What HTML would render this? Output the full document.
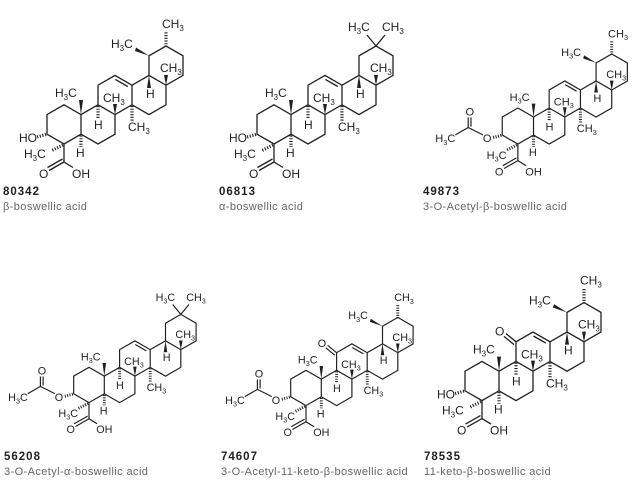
<!DOCTYPE html>
<html><head><meta charset="utf-8"><style>
html,body{margin:0;padding:0;background:#fff}
svg{display:block}
text{font-family:"Liberation Sans",sans-serif;fill:#231f20}
.a{font-size:12px}
.id{font-size:11.5px;font-weight:bold;letter-spacing:1px}
.nm{font-size:11px;fill:#666;letter-spacing:0.4px}
.s{font-size:8px}
</style></head><body>
<svg width="638" height="486" viewBox="0 0 638 486" xmlns="http://www.w3.org/2000/svg">
<defs>
<g id="sk" fill="none" stroke="#231f20" stroke-width="1.3">
<path d="M64,104.8 L81,114.6 L81,134.2 L64,144 L47,134.2 L47,114.6 Z M81,114.6 L98,104.8 L115,114.6 L115,134.2 L98,144 L81,134.2 M98,104.8 L98,85.2 L115,75.4 L132,85.2 L132,104.8 L115,114.6 M132,85.2 L149,75.4 L166,85.2 L166,104.8 L149,114.6 L132,104.8 M149,75.4 L149,55.8 L166,46 L183,55.8 L183,75.4 L166,85.2 M115.4,79.4 L127.8,86.5 M64,144 L64,162 L73,167.5 M64,162 L49,170.5 M62.5,159 L47.5,167.5"/>
<g fill="#231f20" stroke="none">
<polygon points="81,114.6 79,100 83,100"/>
<polygon points="115,114.6 113,104 117,104"/>
<polygon points="149,75.4 147,88 151,88"/>
<polygon points="166,85.2 164,75 168,75"/>
</g>
<g stroke-width="3.2" stroke-dasharray="1.1,1.6">
<line x1="98" y1="106" x2="98" y2="119"/>
<line x1="132" y1="106" x2="132" y2="121"/>
<line x1="81" y1="135.5" x2="81" y2="147"/>
<line x1="63" y1="145" x2="51" y2="151"/>
</g>
</g>
<g id="beta" fill="#231f20">
<polygon points="149,55.8 136,47.5 135,51"/>
<line x1="166" y1="47" x2="166" y2="31" stroke="#231f20" stroke-width="3.2" stroke-dasharray="1.1,1.6"/>
</g>
<g id="gem" stroke="#231f20" stroke-width="1.3">
<line x1="166" y1="46" x2="157" y2="35"/><line x1="166" y1="46" x2="175" y2="35"/>
</g>
<g id="hoh" stroke="#231f20"><line x1="46" y1="134.5" x2="37" y2="137" stroke-width="3.2" stroke-dasharray="1.1,1.6"/></g>
<g id="oac" stroke="#231f20" stroke-width="1.3" fill="none">
<line x1="46" y1="134.5" x2="37" y2="137" stroke-width="3.2" stroke-dasharray="1.1,1.6"/>
<path d="M26,134 L10,126 L-4,134 M10,126 L10,115 M13,125 L13,115"/>
</g>
<g id="keto" stroke="#231f20" stroke-width="1.3"><path d="M98,85.2 L88,77 M96,88 L86,79.8"/></g>
</defs>

<g>
<use href="#sk"/><use href="#beta"/><use href="#hoh"/>
<text class="a" x="55" y="97">H<tspan class="s" dy="3">3</tspan><tspan dy="-3">C</tspan></text>
<text class="a" x="103" y="102">CH<tspan class="s" dy="3">3</tspan></text>
<text class="a" x="94" y="129">H</text>
<text class="a" x="128" y="131">CH<tspan class="s" dy="3">3</tspan></text>
<text class="a" x="146" y="98">H</text>
<text class="a" x="160" y="72">CH<tspan class="s" dy="3">3</tspan></text>
<text class="a" x="111" y="48">H<tspan class="s" dy="3">3</tspan><tspan dy="-3">C</tspan></text>
<text class="a" x="162" y="28">CH<tspan class="s" dy="3">3</tspan></text>
<text class="a" x="76" y="157">H</text>
<text class="a" x="19" y="142">HO</text>
<text class="a" x="24" y="158">H<tspan class="s" dy="3">3</tspan><tspan dy="-3">C</tspan></text>
<text class="a" x="39" y="178">O</text>
<text class="a" x="72" y="178">OH</text>
</g>

<g transform="translate(210,0)">
<use href="#sk"/><use href="#gem"/><use href="#hoh"/>
<text class="a" x="55" y="97">H<tspan class="s" dy="3">3</tspan><tspan dy="-3">C</tspan></text>
<text class="a" x="103" y="102">CH<tspan class="s" dy="3">3</tspan></text>
<text class="a" x="94" y="129">H</text>
<text class="a" x="128" y="131">CH<tspan class="s" dy="3">3</tspan></text>
<text class="a" x="146" y="98">H</text>
<text class="a" x="160" y="72">CH<tspan class="s" dy="3">3</tspan></text>
<text class="a" x="138" y="31">H<tspan class="s" dy="3">3</tspan><tspan dy="-3">C</tspan></text>
<text class="a" x="172" y="31">CH<tspan class="s" dy="3">3</tspan></text>
<text class="a" x="76" y="157">H</text>
<text class="a" x="19" y="142">HO</text>
<text class="a" x="24" y="158">H<tspan class="s" dy="3">3</tspan><tspan dy="-3">C</tspan></text>
<text class="a" x="39" y="178">O</text>
<text class="a" x="72" y="178">OH</text>
</g>

<g transform="translate(459,11.6) scale(0.92)">
<use href="#sk"/><use href="#beta"/><use href="#oac"/>
<text class="a" x="55" y="97">H<tspan class="s" dy="3">3</tspan><tspan dy="-3">C</tspan></text>
<text class="a" x="103" y="102">CH<tspan class="s" dy="3">3</tspan></text>
<text class="a" x="94" y="129">H</text>
<text class="a" x="128" y="131">CH<tspan class="s" dy="3">3</tspan></text>
<text class="a" x="146" y="98">H</text>
<text class="a" x="160" y="72">CH<tspan class="s" dy="3">3</tspan></text>
<text class="a" x="111" y="48">H<tspan class="s" dy="3">3</tspan><tspan dy="-3">C</tspan></text>
<text class="a" x="162" y="28">CH<tspan class="s" dy="3">3</tspan></text>
<text class="a" x="76" y="157">H</text>
<text class="a" x="26" y="142">O</text>
<text class="a" x="7" y="113">O</text>
<text class="a" x="-4" y="142" text-anchor="end">H<tspan class="s" dy="3">3</tspan><tspan dy="-3">C</tspan></text>
<text class="a" x="30" y="160">H<tspan class="s" dy="3">3</tspan><tspan dy="-3">C</tspan></text>
<text class="a" x="39" y="178">O</text>
<text class="a" x="72" y="178">OH</text>
</g>

<g transform="translate(31.4,273) scale(0.9)">
<use href="#sk"/><use href="#gem"/><use href="#oac"/>
<text class="a" x="55" y="97">H<tspan class="s" dy="3">3</tspan><tspan dy="-3">C</tspan></text>
<text class="a" x="103" y="102">CH<tspan class="s" dy="3">3</tspan></text>
<text class="a" x="94" y="129">H</text>
<text class="a" x="128" y="131">CH<tspan class="s" dy="3">3</tspan></text>
<text class="a" x="146" y="98">H</text>
<text class="a" x="160" y="72">CH<tspan class="s" dy="3">3</tspan></text>
<text class="a" x="138" y="31">H<tspan class="s" dy="3">3</tspan><tspan dy="-3">C</tspan></text>
<text class="a" x="172" y="31">CH<tspan class="s" dy="3">3</tspan></text>
<text class="a" x="76" y="157">H</text>
<text class="a" x="26" y="142">O</text>
<text class="a" x="7" y="113">O</text>
<text class="a" x="-4" y="142" text-anchor="end">H<tspan class="s" dy="3">3</tspan><tspan dy="-3">C</tspan></text>
<text class="a" x="30" y="160">H<tspan class="s" dy="3">3</tspan><tspan dy="-3">C</tspan></text>
<text class="a" x="39" y="178">O</text>
<text class="a" x="72" y="178">OH</text>
</g>

<g transform="translate(248.4,276) scale(0.9)">
<use href="#sk"/><use href="#beta"/><use href="#oac"/><use href="#keto"/>
<text class="a" x="55" y="97">H<tspan class="s" dy="3">3</tspan><tspan dy="-3">C</tspan></text>
<text class="a" x="103" y="102">CH<tspan class="s" dy="3">3</tspan></text>
<text class="a" x="94" y="129">H</text>
<text class="a" x="128" y="131">CH<tspan class="s" dy="3">3</tspan></text>
<text class="a" x="146" y="98">H</text>
<text class="a" x="160" y="72">CH<tspan class="s" dy="3">3</tspan></text>
<text class="a" x="111" y="48">H<tspan class="s" dy="3">3</tspan><tspan dy="-3">C</tspan></text>
<text class="a" x="162" y="28">CH<tspan class="s" dy="3">3</tspan></text>
<text class="a" x="77" y="79">O</text>
<text class="a" x="76" y="157">H</text>
<text class="a" x="26" y="142">O</text>
<text class="a" x="7" y="113">O</text>
<text class="a" x="-4" y="142" text-anchor="end">H<tspan class="s" dy="3">3</tspan><tspan dy="-3">C</tspan></text>
<text class="a" x="30" y="160">H<tspan class="s" dy="3">3</tspan><tspan dy="-3">C</tspan></text>
<text class="a" x="39" y="178">O</text>
<text class="a" x="72" y="178">OH</text>
</g>

<g transform="translate(418,256.6)">
<use href="#sk"/><use href="#beta"/><use href="#hoh"/><use href="#keto"/>
<text class="a" x="55" y="97">H<tspan class="s" dy="3">3</tspan><tspan dy="-3">C</tspan></text>
<text class="a" x="103" y="102">CH<tspan class="s" dy="3">3</tspan></text>
<text class="a" x="94" y="129">H</text>
<text class="a" x="128" y="131">CH<tspan class="s" dy="3">3</tspan></text>
<text class="a" x="146" y="98">H</text>
<text class="a" x="160" y="72">CH<tspan class="s" dy="3">3</tspan></text>
<text class="a" x="111" y="48">H<tspan class="s" dy="3">3</tspan><tspan dy="-3">C</tspan></text>
<text class="a" x="162" y="28">CH<tspan class="s" dy="3">3</tspan></text>
<text class="a" x="77" y="79">O</text>
<text class="a" x="76" y="157">H</text>
<text class="a" x="19" y="142">HO</text>
<text class="a" x="24" y="158">H<tspan class="s" dy="3">3</tspan><tspan dy="-3">C</tspan></text>
<text class="a" x="39" y="178">O</text>
<text class="a" x="72" y="178">OH</text>
</g>

<text class="id" x="3" y="195">80342</text>
<text class="nm" x="3" y="210">β-boswellic acid</text>
<text class="id" x="219" y="195">06813</text>
<text class="nm" x="219" y="210">α-boswellic acid</text>
<text class="id" x="423" y="195">49873</text>
<text class="nm" x="423" y="210">3-O-Acetyl-β-boswellic acid</text>
<text class="id" x="4" y="460">56208</text>
<text class="nm" x="4" y="475">3-O-Acetyl-α-boswellic acid</text>
<text class="id" x="221" y="460">74607</text>
<text class="nm" x="221" y="475">3-O-Acetyl-11-keto-β-boswellic acid</text>
<text class="id" x="424" y="460">78535</text>
<text class="nm" x="424" y="475">11-keto-β-boswellic acid</text>
</svg>
</body></html>
